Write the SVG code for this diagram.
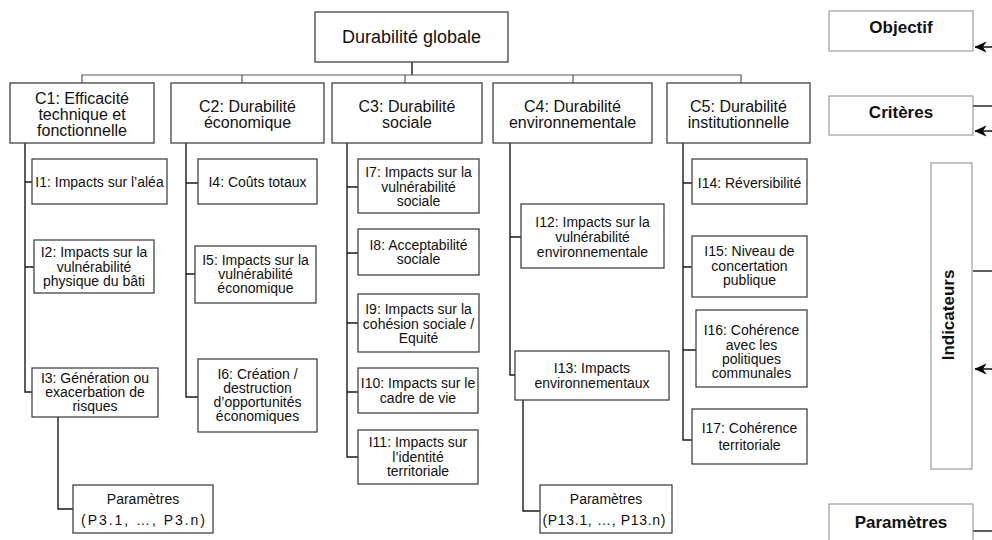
<svg xmlns="http://www.w3.org/2000/svg" width="992" height="540" viewBox="0 0 992 540">
<style>
.box{fill:#fff;stroke:#444;stroke-width:1.3}
.lg{fill:#fff;stroke:#888;stroke-width:1}
.t{font-family:"Liberation Sans",Arial,sans-serif;font-size:14px;fill:#111;text-anchor:middle}
.c{font-size:16px}
.g{font-size:18px}
.b{font-family:"Liberation Sans",Arial,sans-serif;font-size:17px;font-weight:bold;fill:#111;text-anchor:middle}
.ln{fill:none;stroke:#1a1a1a;stroke-width:1.4}
.lt{fill:none;stroke:#555;stroke-width:1.2}
.ar{fill:none;stroke:#111;stroke-width:1.5;marker-end:url(#ah)}
</style>
<defs>
<marker id="ah" markerUnits="userSpaceOnUse" markerWidth="12" markerHeight="12" refX="11" refY="5" orient="auto" overflow="visible">
<path d="M11,5 L0,0 L3.5,5 L0,10 Z" fill="#000" stroke="#000" stroke-width="0.6" stroke-linejoin="miter"/>
</marker>
</defs>
<g id="connectors">
<path class="ln" d="M412,62 V75"/>
<path class="lt" d="M82,83 V75 H741 V83 M242,75 V83 M405,75 V83 M573,75 V83"/>
<path class="ln" d="M25,143 V392 H32 M25,182 H32 M25,267 H34"/>
<path class="ln" d="M186,143 V397 H198 M186,183 H198 M186,274 H195"/>
<path class="ln" d="M347,143 V457 H358 M347,187 H358 M347,253 H358 M347,323 H358 M347,392 H358"/>
<path class="ln" d="M510,143 V375 H515 M510,237 H521"/>
<path class="ln" d="M683,143 V440 H692 M683,183 H692 M683,267 H692 M683,350 H696"/>
<path class="ln" d="M58,417 V509 H73"/>
<path class="ln" d="M523,400 V511 H540"/>
<path class="ar" d="M992,47 H975"/>
<path class="ln" d="M973,106 H992"/>
<path class="ar" d="M992,131 H975"/>
<path class="ln" d="M973,271 H992"/>
<path class="ar" d="M992,369 H975"/>
<path class="ln" d="M973,531 H992"/>
</g>
<g id="objective"><rect class="box" x="315" y="12" width="193" height="50"/><text class="t g" x="411.5" y="43">Durabilité globale</text></g>
<g id="C1"><rect class="box" x="10" y="83" width="144" height="60"/><text class="t c" x="82" y="104">C1: Efficacité</text><text class="t c" x="82" y="120">technique et</text><text class="t c" x="82" y="136">fonctionnelle</text></g>
<g id="C2"><rect class="box" x="171" y="83" width="153" height="60"/><text class="t c" x="247.5" y="112">C2: Durabilité</text><text class="t c" x="247.5" y="128">économique</text></g>
<g id="C3"><rect class="box" x="332" y="83" width="150" height="60"/><text class="t c" x="407" y="112">C3: Durabilité</text><text class="t c" x="407" y="128">sociale</text></g>
<g id="C4"><rect class="box" x="493" y="83" width="159" height="60"/><text class="t c" x="572.5" y="112">C4: Durabilité</text><text class="t c" x="572.5" y="128">environnementale</text></g>
<g id="C5"><rect class="box" x="667" y="83" width="143" height="60"/><text class="t c" x="738.5" y="112">C5: Durabilité</text><text class="t c" x="738.5" y="128">institutionnelle</text></g>
<g id="I1"><rect class="box" x="32" y="159" width="135" height="45"/><text class="t" x="99.5" y="187">I1: Impacts sur l’aléa</text></g>
<g id="I2"><rect class="box" x="34" y="240" width="120" height="53"/><text class="t" x="94" y="257">I2: Impacts sur la</text><text class="t" x="94" y="271.5">vulnérabilité</text><text class="t" x="94" y="286">physique du bâti</text></g>
<g id="I3"><rect class="box" x="32" y="368" width="126" height="49"/><text class="t" x="95" y="382.5">I3: Génération ou</text><text class="t" x="95" y="396.5">exacerbation de</text><text class="t" x="95" y="410.5">risques</text></g>
<g id="P3"><rect class="box" x="73" y="485" width="140" height="48"/><text class="t" x="143" y="504">Paramètres</text><text class="t" x="143" y="525" textLength="124" lengthAdjust="spacing">(P3.1, …, P3.n)</text></g>
<g id="I4"><rect class="box" x="198" y="159" width="119" height="45"/><text class="t" x="257.5" y="187">I4: Coûts totaux</text></g>
<g id="I5"><rect class="box" x="195" y="246" width="121" height="57"/><text class="t" x="255.5" y="265">I5: Impacts sur la</text><text class="t" x="255.5" y="279">vulnérabilité</text><text class="t" x="255.5" y="293">économique</text></g>
<g id="I6"><rect class="box" x="198" y="359" width="119" height="73"/><text class="t" x="257.5" y="379">I6: Création /</text><text class="t" x="257.5" y="393">destruction</text><text class="t" x="257.5" y="407">d’opportunités</text><text class="t" x="257.5" y="421">économiques</text></g>
<g id="I7"><rect class="box" x="358" y="159" width="121" height="54"/><text class="t" x="418.5" y="177">I7: Impacts sur la</text><text class="t" x="418.5" y="191.5">vulnérabilité</text><text class="t" x="418.5" y="206">sociale</text></g>
<g id="I8"><rect class="box" x="358" y="229" width="121" height="46"/><text class="t" x="418.5" y="250">I8: Acceptabilité</text><text class="t" x="418.5" y="264">sociale</text></g>
<g id="I9"><rect class="box" x="358" y="294" width="121" height="58"/><text class="t" x="418.5" y="314">I9: Impacts sur la</text><text class="t" x="418.5" y="328.5">cohésion sociale /</text><text class="t" x="418.5" y="343">Equité</text></g>
<g id="I10"><rect class="box" x="358" y="368" width="120" height="45"/><text class="t" x="418" y="388">I10: Impacts sur le</text><text class="t" x="418" y="403">cadre de vie</text></g>
<g id="I11"><rect class="box" x="358" y="430" width="120" height="54"/><text class="t" x="418" y="447">I11: Impacts sur</text><text class="t" x="418" y="461.5">l’identité</text><text class="t" x="418" y="476">territoriale</text></g>
<g id="I12"><rect class="box" x="521" y="204" width="143" height="64"/><text class="t" x="592.5" y="227">I12: Impacts sur la</text><text class="t" x="592.5" y="242">vulnérabilité</text><text class="t" x="592.5" y="257">environnementale</text></g>
<g id="I13"><rect class="box" x="515" y="351" width="154" height="49"/><text class="t" x="592" y="373">I13: Impacts</text><text class="t" x="592" y="388">environnementaux</text></g>
<g id="P13"><rect class="box" x="540" y="485" width="132" height="48"/><text class="t" x="606" y="504">Paramètres</text><text class="t" x="604" y="525" textLength="123" lengthAdjust="spacing">(P13.1, …, P13.n)</text></g>
<g id="I14"><rect class="box" x="692" y="159" width="115" height="45"/><text class="t" x="749.5" y="188">I14: Réversibilité</text></g>
<g id="I15"><rect class="box" x="692" y="236" width="115" height="61"/><text class="t" x="749.5" y="256">I15: Niveau de</text><text class="t" x="749.5" y="271">concertation</text><text class="t" x="749.5" y="285">publique</text></g>
<g id="I16"><rect class="box" x="696" y="310" width="111" height="77"/><text class="t" x="751.5" y="335">I16: Cohérence</text><text class="t" x="751.5" y="350">avec les</text><text class="t" x="751.5" y="364">politiques</text><text class="t" x="751.5" y="378">communales</text></g>
<g id="I17"><rect class="box" x="692" y="409" width="115" height="55"/><text class="t" x="749.5" y="433">I17: Cohérence</text><text class="t" x="749.5" y="450">territoriale</text></g>
<g id="legend-objectif"><rect class="lg" x="829" y="11" width="144" height="40"/><text class="b" x="901" y="33">Objectif</text></g>
<g id="legend-criteres"><rect class="lg" x="829" y="96" width="144" height="39"/><text class="b" x="901" y="118">Critères</text></g>
<g id="legend-indicateurs"><rect class="lg" x="931" y="163" width="41" height="306"/><text class="b" x="0" y="0" transform="translate(954 315) rotate(-90)">Indicateurs</text></g>
<g id="legend-parametres"><rect class="lg" x="829" y="504" width="144" height="50"/><text class="b" x="901" y="528">Paramètres</text></g>
</svg>
